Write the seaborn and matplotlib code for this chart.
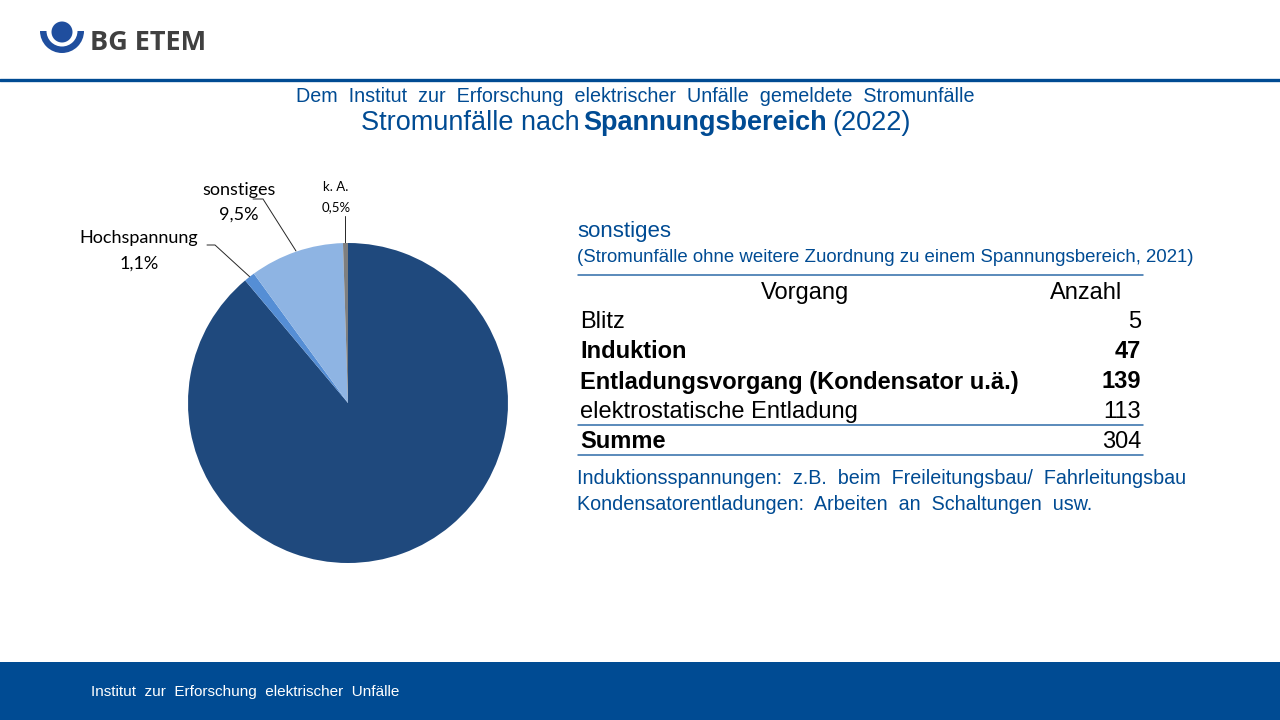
import matplotlib
matplotlib.use('Agg')
import matplotlib.pyplot as plt
import seaborn as sns
from matplotlib.patches import Wedge, Circle

# Werte aus dem Bild
labels = ['Niederspannung', 'Hochspannung', 'sonstiges', 'k. A.']
anteile = [88.8, 1.1, 9.5, 0.5]
farben = ['#1F497D', '#558ED5', '#8EB4E3', '#7F7F7F']

vorgang = ['Blitz', 'Induktion', 'Entladungsvorgang (Kondensator u.ä.)', 'elektrostatische Entladung', 'Summe']
anzahl = ['5', '47', '139', '113', '304']
name_fett = [False, True, True, False, True]
zahl_fett = [False, True, True, False, False]

blau = '#004B93'
arial = 'Liberation Sans'
calibri = 'Lato'

sns.set_theme(style='white')
plt.rcParams['font.family'] = [arial, 'DejaVu Sans']

fig = plt.figure(figsize=(12.8, 7.2), dpi=100, facecolor='white')

# Ebene in Pixelkoordinaten fuer Texte und Linien
bg = fig.add_axes([0, 0, 1, 1])
bg.set_xlim(0, 1280)
bg.set_ylim(720, 0)
bg.axis('off')

# Kopf und Fuss
bg.plot([0, 1280], [80, 80], color=blau, lw=2.4)
bg.fill_between([0, 1280], 662, 720, color=blau, lw=0)
bg.text(91, 692, 'Institut  zur  Erforschung  elektrischer  Unfälle', color='white', fontsize=11, va='center')

# Logo
bg.add_patch(Wedge((62, 31), 22, 0, 180, color='#1F4E9E', lw=0))
bg.add_patch(Circle((62, 31), 15.5, color='white', lw=0))
bg.add_patch(Circle((62, 32), 10.5, color='#1F4E9E', lw=0, zorder=3))
bg.text(90, 43, 'BG ETEM', color='#404040', fontsize=19.5, fontweight='bold', family='Open Sans', va='center')

# Titel
bg.text(635, 97, 'Dem  Institut  zur  Erforschung  elektrischer  Unfälle  gemeldete  Stromunfälle',
        color=blau, fontsize=14.2, ha='center', va='center')
bg.text(361, 123, 'Stromunfälle nach ', color=blau, fontsize=19.5, va='center')
bg.text(583, 123, 'Spannungsbereich', color=blau, fontsize=19.5, fontweight='bold', va='center')
bg.text(832, 123, '(2022)', color=blau, fontsize=19.5, va='center')

# Kreisdiagramm
pie_ax = fig.add_axes([188 / 1280, 1 - 563 / 720, 320 / 1280, 320 / 720])
pie_ax.pie(anteile, colors=farben, startangle=90, counterclock=False, radius=1,
           wedgeprops={'linewidth': 0})
pie_ax.set_xlim(-1, 1)
pie_ax.set_ylim(-1, 1)

# Beschriftung der Segmente
bg.text(394, 441, labels[0], color='white', fontsize=13, fontweight='bold', family=calibri, ha='center', va='center')
bg.text(394, 467, '88,8%', color='white', fontsize=13, fontweight='bold', family=calibri, ha='center', va='center')
bg.text(139, 238, labels[1], color='black', fontsize=13, family=calibri, ha='center', va='center')
bg.text(139, 264, '1,1%', color='black', fontsize=13, family=calibri, ha='center', va='center')
bg.text(239, 190, labels[2], color='black', fontsize=13, family=calibri, ha='center', va='center')
bg.text(239, 215, '9,5%', color='black', fontsize=13, family=calibri, ha='center', va='center')
bg.text(336, 187, labels[3], color='black', fontsize=9.5, family=calibri, ha='center', va='center')
bg.text(336, 207, '0,5%', color='black', fontsize=9.5, family=calibri, ha='center', va='center')

bg.plot([207, 215, 250], [245, 245, 277], color='#262626', lw=0.7, zorder=4)
bg.plot([253, 263, 296], [199, 199, 251], color='#262626', lw=0.7, zorder=4)
bg.plot([345, 345], [216, 243], color='#262626', lw=0.7, zorder=4)

# Tabelle rechts
bg.text(577, 232, 'sonstiges', color=blau, fontsize=16, va='center')
bg.text(577, 257, '(Stromunfälle ohne weitere Zuordnung zu einem Spannungsbereich, 2021)',
        color=blau, fontsize=13.4, va='center')
bg.plot([578, 1143], [275, 275], color='#2E6BA8', lw=1.1)
bg.text(805, 293, 'Vorgang', color='black', fontsize=17, ha='center', va='center')
bg.text(1086, 293, 'Anzahl', color='black', fontsize=17, ha='center', va='center')

zeilen_y = [322, 352, 382, 412, 442]
for y, name, zahl, nf, zf in zip(zeilen_y, vorgang, anzahl, name_fett, zahl_fett):
    bg.text(580, y, name, color='black', fontsize=17, va='center', fontweight='bold' if nf else 'normal')
    bg.text(1141, y, zahl, color='black', fontsize=17, va='center', ha='right', fontweight='bold' if zf else 'normal')
bg.plot([578, 1143], [425, 425], color='#2E6BA8', lw=1.1)
bg.plot([578, 1143], [455, 455], color='#2E6BA8', lw=1.1)

bg.text(577, 479, 'Induktionsspannungen:  z.B.  beim  Freileitungsbau/  Fahrleitungsbau', color=blau, fontsize=14.2, va='center')
bg.text(577, 504, 'Kondensatorentladungen:  Arbeiten  an  Schaltungen  usw.', color=blau, fontsize=14.2, va='center')

fig.savefig('out.png', dpi=100, facecolor='white')
